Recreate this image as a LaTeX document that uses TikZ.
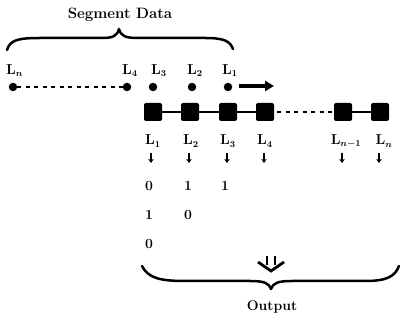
\documentclass[tikz,border=0pt]{standalone}
\usepackage{bm}
\usetikzlibrary{arrows.meta}
\newcommand\Lsub[1]{$\mathbf{L}_{\bm{#1}}$}
\tikzset{
  txt/.style={inner sep=0pt,font=\bfseries},
  labtext/.style={inner sep=0pt,font=\fontsize{13.5}{15}\selectfont},
  bead/.style={circle,fill=black,inner sep=0pt,minimum size=8.5pt},
  cell/.style={fill=black,rounded corners=2pt,inner sep=0pt,minimum width=18pt,minimum height=18pt},
  bit/.style={inner sep=0pt,font=\fontsize{14}{16}\selectfont\bfseries},
  downarr/.style={line width=1.2pt,-{Stealth[length=4pt,width=5.5pt]}},
  link/.style={line width=2.6pt},
  gap/.style={line width=2.6pt,dash pattern=on 4pt off 4.5pt},
  bracepath/.style={line width=2.5pt,line cap=round,line join=round}}
\begin{document}
\begin{tikzpicture}[x=1pt,y=-1pt]
\useasboundingbox (0,0) rectangle (400,320);

% title and its brace
\node[txt,font=\fontsize{15}{17}\selectfont\bfseries] (seg) at (120,15) {Segment Data};
\draw[bracepath] (7,50) .. controls (10,40) and (18,38) .. (40,38) -- (102,38)
  .. controls (113,38) and (117,36) .. (119,29)
  .. controls (121,36) and (125,38) .. (138,38) -- (205,38)
  .. controls (224,38) and (230,41) .. (233,49);

% incoming segment data
\node[bead] (dn) at (13,87) {};
\node[bead] (d4) at (127,87) {};
\node[bead] (d3) at (153,87) {};
\node[bead] (d2) at (192,87) {};
\node[bead] (d1) at (228,87) {};
\node[labtext,anchor=south west] (tn) at (6,77) {\Lsub{n}};
\node[labtext,anchor=south west] (t4) at (122,77) {\Lsub{4}};
\node[labtext,anchor=south west] (t3) at (151,77) {\Lsub{3}};
\node[labtext,anchor=south west] (t2) at (187,77) {\Lsub{2}};
\node[labtext,anchor=south west] (t1) at (222,77) {\Lsub{1}};
\draw[gap] (dn) -- (d4);
\coordinate (gs) at (239,86);
\coordinate (go) at (274,86);
\draw[line width=3.2pt,-{Triangle[length=9pt,width=10pt]}] (gs) -- (go);

% chain of cells
\node[cell] (c1) at (153,112) {};
\node[cell] (c2) at (190,112) {};
\node[cell] (c3) at (228,112) {};
\node[cell] (c4) at (265,112) {};
\node[cell] (c5) at (343,112) {};
\node[cell] (c6) at (380,112) {};
\draw[link] (c1) -- (c2);
\draw[link] (c2) -- (c3);
\draw[link] (c3) -- (c4);
\coordinate (ga) at (277,112);
\draw[gap] (ga) -- (c5.west);
\draw[link] (c5) -- (c6);

% cell labels
\node[labtext] (m1) at (153,141) {\Lsub{1}};
\node[labtext] (m2) at (191,141) {\Lsub{2}};
\node[labtext] (m3) at (228,141) {\Lsub{3}};
\node[labtext] (m4) at (265,141) {\Lsub{4}};
\node[labtext] (m5) at (346,141) {\Lsub{n-1}};
\node[labtext] (m6) at (384,141) {\Lsub{n}};

% read-out arrows
\foreach \x in {151,189,227,264,342,379}
  \draw[downarr] (\x,153) -- (\x,163);

% output bits
\node[bit] (b11) at (149,186) {0};
\node[bit] (b12) at (188,186) {1};
\node[bit] (b13) at (225,186) {1};
\node[bit] (b21) at (149,215) {1};
\node[bit] (b22) at (188,215) {0};
\node[bit] (b31) at (149,244) {0};

% collected output
\draw[line width=2.6pt] (267,256) -- (267,265) (275,256) -- (275,265);
\draw[line width=2.8pt,line join=miter] (258,262) -- (271,271) -- (284,262);
\draw[bracepath] (142,266) .. controls (148,278) and (160,281) .. (185,281) -- (250,281)
  .. controls (264,281) and (269,283) .. (271,289)
  .. controls (273,283) and (278,281) .. (292,281) -- (365,281)
  .. controls (388,281) and (395,276) .. (399,266);
\node[txt,font=\fontsize{14}{16}\selectfont\bfseries] (out) at (272,307) {Output};
\end{tikzpicture}
\end{document}
